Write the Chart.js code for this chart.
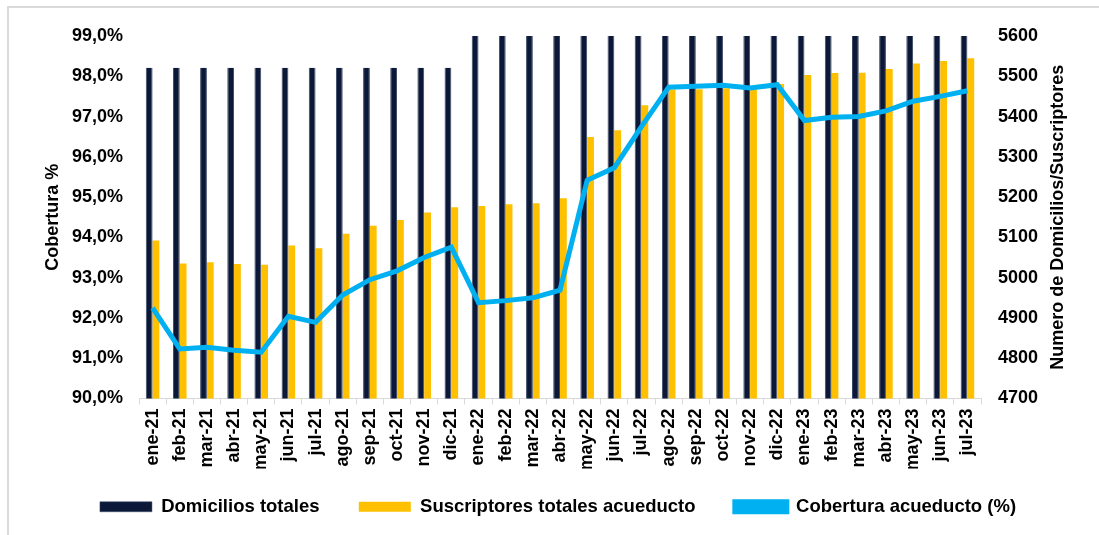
<!DOCTYPE html>
<html>
<head>
<meta charset="utf-8">
<script src="https://cdn.jsdelivr.net/npm/chart.js@4.4.1/dist/chart.umd.min.js"></script>
<style>
  html, body { margin: 0; padding: 0; background: #fff; }
  #frame { position: absolute; left: 7px; top: 6px; width: 1100px; height: 540px;
           border-top: 2px solid #d9d9d9; border-left: 2px solid #d9d9d9; }
  #wrap { position: absolute; left: 0; top: 0; width: 1099px; height: 535px; }
</style>
</head>
<body>
<div id="frame"></div>
<div id="wrap"><canvas id="chart" width="1099" height="535"></canvas></div>
<script>
// === Data ===
var months = ['ene-21','feb-21','mar-21','abr-21','may-21','jun-21','jul-21','ago-21','sep-21','oct-21','nov-21','dic-21',
  'ene-22','feb-22','mar-22','abr-22','may-22','jun-22','jul-22','ago-22','sep-22','oct-22','nov-22','dic-22',
  'ene-23','feb-23','mar-23','abr-23','may-23','jun-23','jul-23'];

// Domicilios totales (right axis) - 2022/2023 bars run past the top of the axis
var domicilios = [5521,5521,5521,5521,5521,5521,5521,5521,5521,5521,5521,5521,
  5640,5640,5640,5640,5640,5640,5640,5640,5640,5640,5640,5640,
  5640,5640,5640,5640,5640,5640,5640];

// Suscriptores totales acueducto (right axis)
var suscriptores = [5092,5035,5038,5034,5032,5080,5073,5109,5129,5143,5162,5175,
  5178,5182,5185,5197,5349,5366,5428,5467,5468,5470,5468,5481,
  5503,5508,5509,5518,5532,5538,5545];

// Cobertura acueducto % (left axis)
var cobertura = [92.25,91.23,91.27,91.2,91.15,92.04,91.89,92.57,92.95,93.17,93.5,93.76,
  92.38,92.43,92.5,92.69,95.42,95.73,96.75,97.73,97.75,97.78,97.71,97.79,
  96.9,96.98,97.0,97.14,97.38,97.5,97.64];

var FONT = '"Liberation Sans", Arial, sans-serif';
var TEXT = '#000000';

// right axis title reads bottom-to-top, drawn by hand
var rightTitle = {
  id: 'rightTitle',
  afterDraw: function(chart) {
    var ctx = chart.ctx;
    var area = chart.chartArea;
    ctx.save();
    ctx.translate(1058, (area.top + area.bottom) / 2);
    ctx.rotate(-Math.PI / 2);
    ctx.font = 'bold 18px ' + FONT;
    ctx.fillStyle = TEXT;
    ctx.textAlign = 'center';
    ctx.textBaseline = 'middle';
    ctx.fillText('Numero de Domicilios/Suscriptores', 0, 0);
    ctx.restore();
  }
};

var ctx = document.getElementById('chart').getContext('2d');
new Chart(ctx, {
  type: 'bar',
  data: {
    labels: months,
    datasets: [{
      label: 'Domicilios totales',
      data: domicilios,
      yAxisID: 'y1',
      backgroundColor: '#0b1838',
      borderColor: '#3d4a66',
      borderWidth: { left: 1, right: 1, top: 0, bottom: 0 },
      categoryPercentage: 0.5,
      barPercentage: 1.0,
      order: 1
    }, {
      label: 'Suscriptores totales acueducto',
      data: suscriptores,
      yAxisID: 'y1',
      backgroundColor: '#ffc000',
      borderWidth: 0,
      categoryPercentage: 0.5,
      barPercentage: 1.0,
      order: 1
    }, {
      type: 'line',
      label: 'Cobertura acueducto (%)',
      data: cobertura,
      yAxisID: 'y',
      borderColor: '#00b0f0',
      backgroundColor: '#00b0f0',
      borderWidth: 5,
      pointRadius: 0,
      tension: 0,
      order: 0
    }]
  },
  options: {
    responsive: false,
    animation: false,
    layout: { padding: { top: 36, left: 17, right: 0, bottom: 9 } },
    plugins: {
      tooltip: { enabled: false },
      legend: {
        position: 'bottom',
        labels: {
          sort: function(a, b) { return a.datasetIndex - b.datasetIndex; },
          generateLabels: function(chart) {
            var items = Chart.defaults.plugins.legend.labels.generateLabels(chart);
            // a little extra room after the first two entries
            items.forEach(function(it) {
              if (it.datasetIndex < 2) it.text = it.text + '  ';
            });
            return items;
          },
          boxWidth: 52,
          boxHeight: 10,
          padding: 29,
          color: TEXT,
          font: { family: FONT, size: 18.5, weight: 'bold' }
        }
      }
    },
    scales: {
      x: {
        offset: true,
        grid: { display: true, drawOnChartArea: false, drawTicks: true, tickLength: 6, color: '#d9d9d9', offset: true },
        border: { display: true, color: '#d9d9d9', width: 1 },
        ticks: {
          minRotation: 90, maxRotation: 90, autoSkip: false, padding: 4,
          color: TEXT, font: { family: FONT, size: 18, weight: 'bold' }
        },
        afterFit: function(scale) { scale.height = 70; }
      },
      y: {
        position: 'left',
        min: 90, max: 99,
        grid: { display: false, drawTicks: false },
        border: { display: false },
        ticks: {
          stepSize: 1, padding: 16, color: TEXT,
          font: { family: FONT, size: 18, weight: 'bold' },
          callback: function(v) { return v.toFixed(1).replace('.', ',') + '%'; }
        },
        title: {
          display: true, text: 'Cobertura %', color: TEXT,
          font: { family: FONT, size: 18, weight: 'bold' },
          padding: { top: 25, bottom: 0 }
        },
        afterFit: function(scale) { scale.width = 122; }
      },
      y1: {
        position: 'right',
        min: 4700, max: 5600,
        grid: { display: false, drawTicks: false },
        border: { display: false },
        ticks: {
          stepSize: 100, padding: 17, color: TEXT,
          font: { family: FONT, size: 18, weight: 'bold' },
          callback: function(v) { return String(v); }
        },
        afterFit: function(scale) { scale.width = 118; }
      }
    }
  },
  plugins: [rightTitle]
});
</script>
</body>
</html>
